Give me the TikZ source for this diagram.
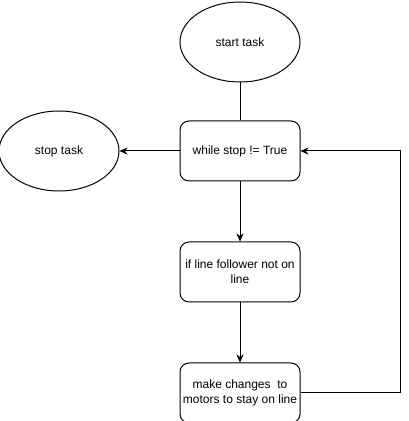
\documentclass[tikz,border=0pt]{standalone}
\usepackage{fontspec}
\setmainfont{Liberation Sans}
\usetikzlibrary{arrows.meta, positioning, shapes.geometric}

\begin{document}
\begin{tikzpicture}[
  x=1pt, y=1pt,
  font=\fontsize{12}{15}\selectfont,
  terminal/.style={
    ellipse,
    draw,
    line width=1pt,
    minimum width=120pt,
    minimum height=80pt,
    inner sep=0pt
  },
  stepbox/.style={
    draw,
    line width=1pt,
    rounded corners=9pt,
    minimum width=120pt,
    minimum height=60pt,
    align=center,
    inner sep=0pt
  },
  arrow/.style={-{Stealth[length=8pt, width=7pt, inset=2.5pt]}, line width=1pt}
]
\useasboundingbox (0,0) rectangle (409,421);
\node[terminal] (start) at (240,379) {start task};
\node[stepbox, below=38pt of start] (loop) {while stop != True};
\node[terminal, left=60pt of loop] (stop) {stop task};
\node[stepbox, below=60pt of loop] (check) {if line follower not on\\line};
\node[stepbox, below=60pt of check] (adjust) {make changes~ to\\motors to stay on line};
\draw[line width=1pt] (start) -- (loop);
\draw[arrow] (loop) -- (stop);
\draw[arrow] (loop) -- (check);
\draw[arrow] (check) -- (adjust);
\draw[arrow] (adjust.east) -- ++(100,0) |- (loop.east);
\end{tikzpicture}
\end{document}
